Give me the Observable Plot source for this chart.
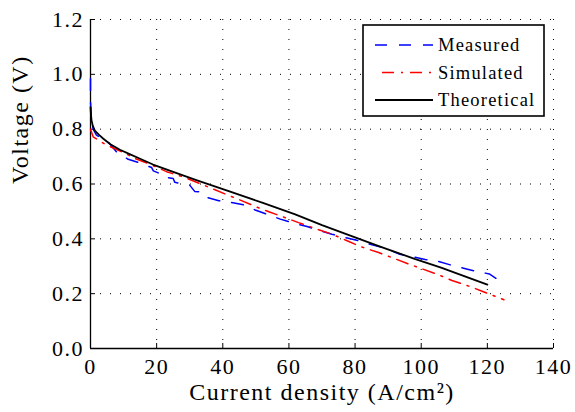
<!DOCTYPE html>
<html><head><meta charset="utf-8">
<script src="https://cdn.jsdelivr.net/npm/d3@7"></script>
<script src="https://cdn.jsdelivr.net/npm/@observablehq/plot@0.6"></script>
<style>
body{margin:0;background:#fff;}
#wrap{position:relative;width:575px;height:412px;}
#legend{position:absolute;left:362px;top:24px;}
</style></head><body><div id="wrap"></div>
<script>
const xTicks = [0, 20, 40, 60, 80, 100, 120, 140];
const yTicks = [0, 0.2, 0.4, 0.6, 0.8, 1.0, 1.2];
const seriesNames = ["Measured", "Simulated", "Theoretical"];

const measuredI = [0, 0, 0.3, 0.8, 1.8, 5.3, 7.9, 11.4, 15.4, 18.5, 19.0, 21.4, 22.0, 25.0, 25.5, 28.0, 30.0, 31.5, 33.5, 34.7, 38.8, 42.3, 46.3, 49.8, 53.9, 57.4, 61.4, 65.5, 68.5, 73.0, 77.6, 81.1, 85.1, 89.1, 93.2, 96.7, 101.2, 105.2, 108.8, 112.8, 116.8, 120.6, 124.0];
const measuredV = [0.985, 0.90, 0.84, 0.80, 0.778, 0.754, 0.717, 0.690, 0.675, 0.660, 0.648, 0.636, 0.626, 0.620, 0.606, 0.600, 0.596, 0.573, 0.571, 0.553, 0.539, 0.533, 0.524, 0.505, 0.487, 0.472, 0.457, 0.445, 0.433, 0.417, 0.403, 0.393, 0.378, 0.366, 0.345, 0.336, 0.325, 0.318, 0.305, 0.293, 0.281, 0.272, 0.245];

const simulatedI = [0, 0.8, 4.8, 7.9, 10.9, 13.4, 17.4, 23.0, 28.5, 33.0, 40.8, 44.8, 50.4, 53.9, 59.4, 62.9, 69.0, 73.0, 77.6, 81.6, 87.1, 91.1, 96.2, 100.2, 105.2, 109.3, 114.8, 118.6, 121.1, 125.0];
const simulatedV = [0.80, 0.772, 0.742, 0.726, 0.709, 0.693, 0.675, 0.645, 0.624, 0.602, 0.563, 0.544, 0.515, 0.499, 0.475, 0.459, 0.433, 0.417, 0.393, 0.372, 0.350, 0.332, 0.308, 0.291, 0.269, 0.248, 0.226, 0.208, 0.196, 0.178];

const theoreticalI = [0, 0.1, 0.3, 0.7, 1.3, 2.5, 3.8, 6.0, 8.9, 12.0, 15.0, 18.9, 25.0, 32.0, 41.8, 51.9, 61.9, 70.0, 80.0, 88.0, 98.0, 106.0, 113.0, 120.0];
const theoreticalV = [0.88, 0.86, 0.833, 0.812, 0.795, 0.780, 0.766, 0.745, 0.725, 0.708, 0.692, 0.671, 0.644, 0.614, 0.574, 0.532, 0.489, 0.450, 0.405, 0.370, 0.327, 0.295, 0.264, 0.233];

const seriesColors = ["#0000ff", "#ff0000", "#000000"];
const seriesDash = ["12,12", "12,7,2,7", null];
const seriesWidth = [1.5, 1.5, 1.8];

const W = 575, H = 412;
const M = {top: 19, right: 22, bottom: 64, left: 90};
const frameW = W - M.left - M.right, frameH = H - M.top - M.bottom;
const rows = (I, V) => I.map((x, i) => ({I: x, V: V[i]}));
const tables = [rows(measuredI, measuredV), rows(simulatedI, simulatedV), rows(theoreticalI, theoreticalV)];
const dotted = {stroke: "#000", strokeWidth: 1, strokeDasharray: "1,9"};
const SERIF = "font-family: 'Liberation Serif'; letter-spacing: 1.5px;";

const chart = Plot.plot({
  width: W, height: H,
  marginTop: M.top, marginRight: M.right, marginBottom: M.bottom, marginLeft: M.left,
  x: {domain: [0, 140]},
  y: {domain: [0, 1.2]},
  style: {fontSize: "22px", background: "white", color: "black"},
  marks: [
    Plot.ruleX(xTicks, {x: d => d, ...dotted}),
    Plot.ruleY(yTicks, {y: d => d, ...dotted}),
    Plot.ruleX([0], {x: d => d, stroke: "#000", strokeWidth: 1.3}),
    Plot.ruleY([0], {y: d => d, stroke: "#000", strokeWidth: 1.3}),
    Plot.tickX(xTicks, {x: d => d, insetTop: frameH - 5, stroke: "#000"}),
    Plot.tickY(yTicks, {y: d => d, insetRight: frameW - 5, stroke: "#000"}),
    ...tables.map((t, k) => Plot.line(t, {x: "I", y: "V", stroke: seriesColors[k], strokeWidth: seriesWidth[k], strokeDasharray: seriesDash[k]})),
    Plot.axisX(xTicks, {tickSize: 0, tickPadding: 10, label: null}),
    Plot.axisY(yTicks, {tickSize: 0, tickPadding: 6.5, tickFormat: d3.format(".1f"), label: null}),
    Plot.text(["Current density (A/cm²)"], {text: d => d, frameAnchor: "bottom", dy: 51, fontSize: 24}),
    Plot.text(["Voltage (V)"], {text: d => d, frameAnchor: "left", dx: -70, rotate: -90, fontSize: 24})
  ]
});
chart.setAttribute("font-family", "Liberation Serif");
chart.querySelectorAll("text").forEach(t => t.setAttribute("style", (t.getAttribute("style") || "") + ";" + SERIF));
const wrap = document.getElementById("wrap");
wrap.appendChild(chart);

// legend
const lw = 183, lh = 93;
const leg = d3.create("svg").attr("id", "legend").attr("width", lw).attr("height", lh);
leg.append("rect").attr("x", 1).attr("y", 1).attr("width", lw - 2).attr("height", lh - 2)
  .attr("fill", "white").attr("stroke", "black").attr("stroke-width", 1.6);
seriesNames.forEach((name, k) => {
  const cy = 21 + k * 27.5;
  leg.append("line").attr("x1", 13).attr("x2", 71).attr("y1", cy).attr("y2", cy)
    .attr("stroke", seriesColors[k]).attr("stroke-width", seriesWidth[k])
    .attr("stroke-dasharray", seriesDash[k]).attr("stroke-dashoffset", k === 1 ? 21 : 0);
  leg.append("text").attr("x", 76).attr("y", cy).attr("dominant-baseline", "central")
    .attr("style", "font-family: 'Liberation Serif'; font-size: 18.5px; letter-spacing: 1.2px;")
    .attr("fill", "black").text(name);
});
wrap.appendChild(leg.node());
</script></body></html>
